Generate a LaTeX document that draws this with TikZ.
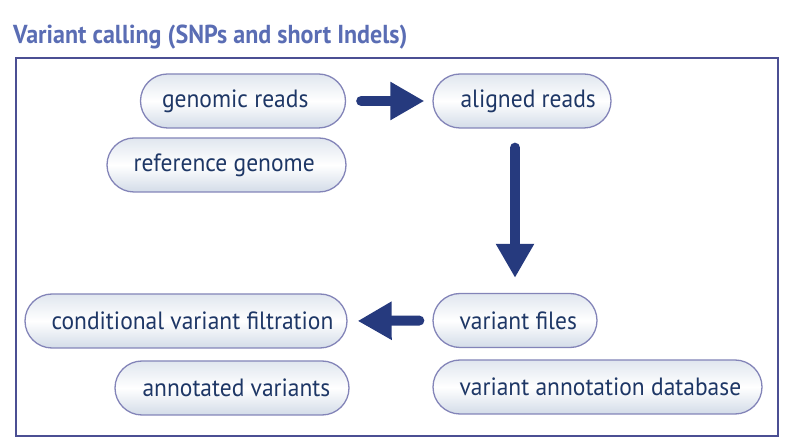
\documentclass[tikz,border=0pt]{standalone}
\usepackage{fontspec}
\setmainfont{PT Sans}[FakeStretch=0.94]
\newfontfamily\titlefont{PT Sans}[FakeStretch=0.925]
\usetikzlibrary{arrows.meta,shapes.misc}
\definecolor{titleblue}{HTML}{5A6DB4}
\definecolor{framecol}{HTML}{4B4F93}
\definecolor{pillline}{HTML}{8384B8}
\definecolor{pillfill}{HTML}{D3DCE8}
\definecolor{textnavy}{HTML}{1E3766}
\definecolor{arrownavy}{HTML}{263A7E}
\tikzset{
  pill/.style={rounded rectangle, draw=pillline, line width=1.3pt,
    top color=pillfill!70, bottom color=pillfill, middle color=white,
    minimum height=54pt, inner sep=0pt},
  label/.style={anchor=west, text=textnavy, inner sep=0pt,
    font=\fontsize{25}{28}\selectfont},
  bigarrow/.style={draw=arrownavy, line width=10pt, line cap=round,
    -{Triangle[length=34pt,width=36pt]}}
}
\begin{document}
\begin{tikzpicture}[x=1pt,y=-1pt]
\useasboundingbox (0,0) rectangle (785,443);
% title and frame
\node[anchor=base west, inner sep=0pt, text=titleblue,
      font=\titlefont\fontsize{26}{30}\selectfont\bfseries] (title) at (13,44)
      {Variant calling (SNPs and short Indels)};
\draw[framecol, line width=1.8pt] (16,58) rectangle (778,436);
% pills
\node[pill, minimum width=205pt] (gr)  at (243,101) {};
\node[pill, minimum width=178pt] (ar)  at (522,101) {};
\node[pill, minimum width=239pt] (rg)  at (226.5,165) {};
\node[pill, minimum width=164pt] (vf)  at (515,320.5) {};
\node[pill, minimum width=329pt] (vad) at (597.5,387) {};
\node[pill, minimum width=322pt] (cvf) at (186,321) {};
\node[pill, minimum width=234pt] (av)  at (232,388) {};
% labels
\node[label] (grt)  at ([xshift=22pt]gr.west)  {genomic reads};
\node[label] (art)  at ([xshift=28pt]ar.west)  {aligned reads};
\node[label] (rgt)  at ([xshift=27pt]rg.west)  {reference genome};
\node[label] (vft)  at ([xshift=27pt]vf.west)  {variant files};
\node[label] (vadt) at ([xshift=27pt]vad.west) {variant annotation database};
\node[label] (cvft) at ([xshift=27pt]cvf.west) {conditional variant filtration};
\node[label] (avt)  at ([xshift=28pt]av.west)  {annotated variants};
% flow arrows
\draw[bigarrow, shorten <=15pt, shorten >=8pt] (gr.east) -- (ar.west);
\draw[bigarrow, shorten <=19pt, shorten >=15pt] (ar.south -| vf.north) -- (vf.north);
\draw[bigarrow, shorten <=13pt, shorten >=10pt] (vf.west) -- (cvf.east);
\end{tikzpicture}
\end{document}
